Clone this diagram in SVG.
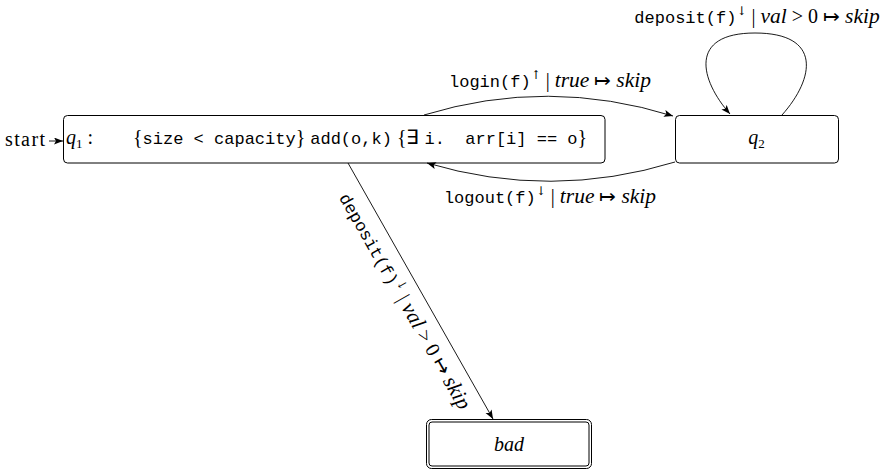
<svg xmlns="http://www.w3.org/2000/svg" width="886" height="473" viewBox="0 0 886 473">
<style>
.box{fill:#fff;stroke:#000;stroke-width:1}
.edge{fill:none;stroke:#000;stroke-width:0.9;marker-end:url(#arr)}
.rm{font-family:"Liberation Serif",serif;font-size:20px;fill:#000}
.it{font-family:"Liberation Serif",serif;font-style:italic}
.lit{font-family:"Liberation Serif",serif;font-style:italic;font-size:21.5px}
.tt{font-family:"Liberation Mono",monospace;font-size:17px}
.sup{font-family:"DejaVu Serif",serif;font-size:12px;fill:#000}
.sub{font-size:13px;font-style:normal}
</style>
<defs>
<marker id="arr" markerWidth="10" markerHeight="8" refX="9" refY="3.5" orient="auto" markerUnits="userSpaceOnUse">
<path d="M0,0 L9,3.5 L0,7 L2,3.5 Z" fill="#000"/>
</marker>
</defs>
<g id="q1">
<rect class="box" x="63.5" y="115.5" width="541.5" height="47.5" rx="4"/>
<text class="rm" x="66" y="144" xml:space="preserve"><tspan class="it">q</tspan><tspan class="sub" dy="4">1</tspan><tspan dy="-4"> :</tspan></text>
<text class="rm" x="133" y="144" xml:space="preserve">{<tspan class="tt">size &lt; capacity</tspan>} <tspan class="tt">add(o,k)</tspan> {∃ <tspan class="tt">i.  arr[i] == o</tspan>}</text>
</g>
<g id="q2">
<rect class="box" x="675.5" y="115.5" width="163" height="47.5" rx="4"/>
<text class="rm" x="756.5" y="144" text-anchor="middle"><tspan class="it">q</tspan><tspan class="sub" dy="4">2</tspan></text>
</g>
<g id="bad">
<rect class="box" x="426.5" y="419.5" width="165" height="49" rx="5"/>
<rect class="box" x="429" y="422" width="160" height="44" rx="3"/>
<text class="rm it" x="509" y="451" text-anchor="middle">bad</text>
</g>
<g id="start">
<text class="rm" x="5" y="146" textLength="40">start</text>
</g>
<g id="connectors">
<path class="edge" d="M49,141 L63,141"/>
<path class="edge" d="M424,115 Q548,77 673,116"/>
<path class="edge" d="M675,162 Q551,200 427,163"/>
<path class="edge" d="M782,115 C815,78 822,33 755,33 C688,33 700,80 730,114"/>
<path class="edge" d="M348,163 L493,419"/>
<text class="rm" x="550" y="87" text-anchor="middle" xml:space="preserve"><tspan class="tt">login(f)</tspan><tspan class="sup" dy="-8">↑</tspan><tspan dy="8"> | </tspan><tspan class="lit">true</tspan> ↦ <tspan class="lit">skip</tspan></text>
<text class="rm" x="550" y="203" text-anchor="middle" xml:space="preserve"><tspan class="tt">logout(f)</tspan><tspan class="sup" dy="-8">↓</tspan><tspan dy="8"> | </tspan><tspan class="lit">true</tspan> ↦ <tspan class="lit">skip</tspan></text>
<text class="rm" x="757" y="23" text-anchor="middle" xml:space="preserve"><tspan class="tt">deposit(f)</tspan><tspan class="sup" dy="-8">↓</tspan><tspan dy="8"> | </tspan><tspan class="lit">val</tspan> &gt; 0 ↦ <tspan class="lit">skip</tspan></text>
<text class="rm" transform="translate(421,292) rotate(60.48)" x="0" y="25" text-anchor="middle" xml:space="preserve"><tspan class="tt">deposit(f)</tspan><tspan class="sup" dy="-8">↓</tspan><tspan dy="8"> | </tspan><tspan class="lit">val</tspan> &gt; 0 ↦ <tspan class="lit">skip</tspan></text>
</g>
</svg>
